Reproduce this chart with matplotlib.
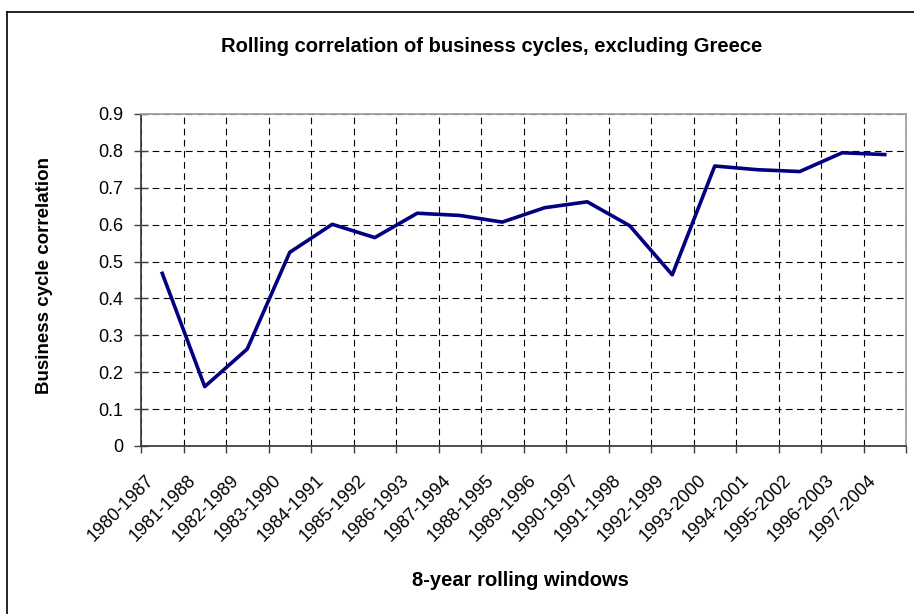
import matplotlib
matplotlib.use('Agg')
import matplotlib.pyplot as plt
import matplotlib.transforms as mtransforms
from matplotlib.lines import Line2D
import numpy as np

# rolling 8-year windows
windows = ["1980-1987", "1981-1988", "1982-1989", "1983-1990", "1984-1991",
           "1985-1992", "1986-1993", "1987-1994", "1988-1995", "1989-1996",
           "1990-1997", "1991-1998", "1992-1999", "1993-2000", "1994-2001",
           "1995-2002", "1996-2003", "1997-2004"]
corr = [0.468, 0.161, 0.263, 0.525, 0.601, 0.565, 0.631, 0.625, 0.607,
        0.646, 0.662, 0.597, 0.464, 0.759, 0.749, 0.744, 0.795, 0.790]
yticks = [0, 0.1, 0.2, 0.3, 0.4, 0.5, 0.6, 0.7, 0.8, 0.9]
ytick_labels = ["0", "0.1", "0.2", "0.3", "0.4", "0.5", "0.6", "0.7", "0.8", "0.9"]

plt.rcParams['font.family'] = ['Liberation Sans', 'DejaVu Sans']

fig = plt.figure(figsize=(9.14, 6.14), dpi=100)
ax = fig.add_axes([141/914, 1 - 446/614, (906 - 141)/914, (446 - 114)/614])

x = np.arange(len(windows))
ax.plot(x, corr, color="#000080", lw=2.6)

ax.set_xlim(-0.5, len(windows) - 0.5)
ax.set_ylim(0, 0.9)

# category labels at centres, tick marks + grid at boundaries
ax.set_xticks(x)
ax.set_xticklabels(windows, rotation=45, ha='right', va='center', rotation_mode='anchor', fontsize=13)
ax.tick_params(axis='x', which='major', length=0, pad=23)
ax.set_xticks(np.arange(-0.5, len(windows)), minor=True)
ax.tick_params(axis='x', which='minor', length=5, width=1, color="#404040", direction='out')
shift = mtransforms.ScaledTranslation(-11/100, 0, fig.dpi_scale_trans)
for lab in ax.get_xticklabels():
    lab.set_transform(lab.get_transform() + shift)

ax.set_yticks(yticks)
ax.set_yticklabels(ytick_labels, fontsize=13)
ax.tick_params(axis='y', length=10, width=1, color="#404040", direction='inout', pad=8)

ax.grid(True, axis='y', which='major', color='black', linestyle=(0, (6, 4)), lw=0.8)
ax.grid(True, axis='x', which='minor', color='black', linestyle=(0, (6, 4)), lw=0.8)
ax.set_axisbelow(True)

for side in ['left', 'bottom']:
    ax.spines[side].set_color("#404040")
    ax.spines[side].set_linewidth(1.3)
for side in ['top', 'right']:
    ax.spines[side].set_color("#a0a0a0")
    ax.spines[side].set_linewidth(1.3)

fig.text(492/914, 1 - 47/614, "Rolling correlation of business cycles, excluding Greece",
         fontsize=14.5, fontweight='bold', ha='center', va='center')
fig.text(45/914, 1 - 275/614, "Business cycle correlation", fontsize=13.5,
         fontweight='bold', ha='center', va='center', rotation=90)
fig.text(520/914, 1 - 580/614, "8-year rolling windows", fontsize=14.5,
         fontweight='bold', ha='center', va='center')

# outer chart frame (only top and left edges visible)
fig.add_artist(Line2D([7/914, 1.01], [1 - 12/614, 1 - 12/614], color='black', lw=1.2,
                      transform=fig.transFigure))
fig.add_artist(Line2D([7/914, 7/914], [-0.01, 1 - 12/614], color='black', lw=1.2,
                      transform=fig.transFigure))

fig.savefig("out.png", dpi=100)
